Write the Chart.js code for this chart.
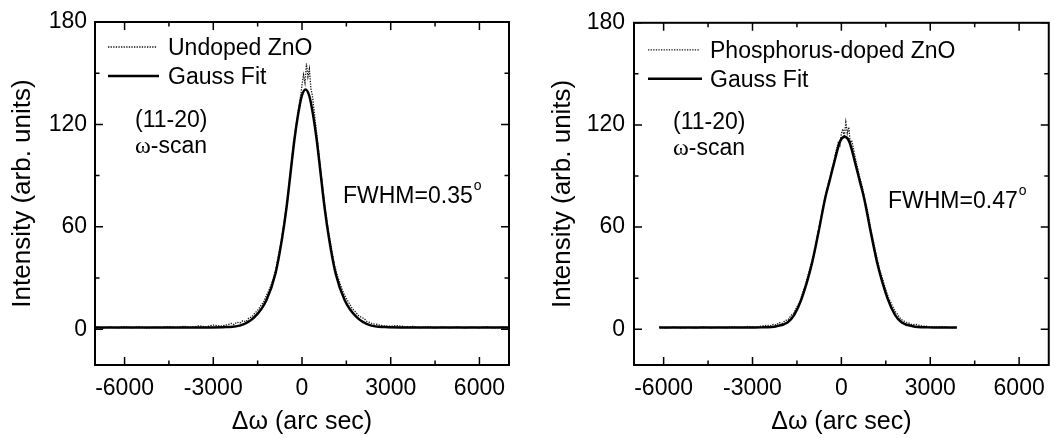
<!DOCTYPE html>
<html>
<head>
<meta charset="utf-8">
<script src="https://cdn.jsdelivr.net/npm/chart.js@4.4.0/dist/chart.umd.min.js"></script>
<style>
  body { margin: 0; background: #fff; width: 1055px; height: 438px; overflow: hidden; position: relative; }
  canvas { position: absolute; top: 0; }
  #left { left: 0; }
  #right { left: 530px; }
</style>
</head>
<body>
<canvas id="left" width="530" height="438"></canvas>
<canvas id="right" width="525" height="438"></canvas>
<script>
// axis ticks
const xTicks = [-6000, -3000, 0, 3000, 6000];
const xMinor = [-4500, -1500, 1500, 4500];
const yTicks = [0, 60, 120, 180];
const yMinor = [30, 90, 150];

const undopedX = [-7000,-6750,-6500,-6250,-6000,-5750,-5500,-5250,-5000,-4750,-4500,-4250,-4000,-3750,-3500,-3250,-3000,-2750,
  -2500,-2400,-2300,-2200,-2100,-2000,-1900,-1800,-1700,-1600,-1500,-1400,-1300,-1200,-1100,-1000,-900,-800,-700,-600,-500,-400,-300,-200,-100,-50,
  0,50,100,150,200,250,300,350,400,500,600,700,800,900,1000,1100,1200,1300,1400,1500,1600,1700,1800,1900,2000,2100,2200,2300,2400,2500,2750,
  3000,3250,3500,3750,4000,4250,4500,4750,5000,5250,5500,5750,6000,6250,6500,6750,7000];
const undopedY = [1.6,0.6,1.3,0.7,1.5,0.8,1.4,0.6,1.2,0.9,1.6,0.8,1.7,1.1,1.9,1.4,2.4,1.8,
  2.6,3.4,2.7,4.1,3.6,5.0,4.4,6.5,7.2,9.3,11.0,13.6,15.8,19.9,23.5,27.9,34.1,43.0,51.9,63.4,75.2,90.6,106.1,119.5,131.0,136.2,
  143.0,149.0,144.5,155.6,148.0,152.5,141.0,137.0,129.4,114.0,97.8,82.9,68.5,56.8,46.9,37.5,31.2,26.0,21.4,17.9,15.1,12.0,10.3,8.1,7.0,6.2,4.4,3.9,3.1,2.9,2.0,
  1.7,2.1,1.3,1.6,0.9,1.4,0.7,1.3,0.8,1.4,0.7,1.2,0.8,1.5,0.7,1.3,1.0];

// undoped ZnO, Gauss fit
const undopedFitX = [-7000,-5000,-3080,-2580,-2080,-1600,-1205,-895,-682,-518,-387,-257,-130,-10,120,250,370,497,627,758,922,1135,1445,1840,2320,2820,3320,5000,7000];
const undopedFitY = [1.0,1.0,1.0,1.2,2.2,7.2,17,32.8,52.3,72,91.6,111,126,136.5,140.5,136.5,126,111,91.6,72,52.3,32.8,17,7.2,2.2,1.2,1.0,1.0,1.0];

// phosphorus-doped ZnO, measured omega-scan
const pDopedX = [-6150,-5900,-5650,-5400,-5150,-4900,-4650,-4400,-4150,-3900,-3650,-3400,-3150,-2900,-2650,
  -2500,-2400,-2300,-2200,-2100,-2000,-1900,-1800,-1700,-1600,-1500,-1400,-1300,-1200,-1100,-1000,-900,-800,-700,-600,-500,-400,-300,-200,-100,-50,
  0,50,100,150,200,250,300,350,400,500,600,700,800,900,1000,1100,1200,1300,1400,1500,1600,1700,1800,1900,2000,2100,2200,2300,2400,2500,2700,
  2950,3200,3450,3700,3900];
const pDopedY = [1.2,0.6,1.3,0.7,1.1,0.6,1.4,0.8,1.2,0.9,1.5,1.0,1.6,1.3,2.0,
  2.3,1.9,2.8,2.5,3.9,3.4,5.1,5.6,8.0,9.7,13.2,16.4,21.8,27.0,33.5,39.8,45.6,55.9,64.8,73.1,81.5,88.0,95.2,103.1,110.4,108.2,
  114.9,117.6,113.0,121.5,115.2,118.7,109.5,110.9,106.8,98.2,90.6,84.1,75.5,67.9,58.2,50.0,41.8,34.5,29.1,23.0,18.1,14.6,10.8,8.7,6.0,4.9,4.1,3.5,2.6,2.9,2.0,
  1.6,1.2,1.5,0.8,1.1];

// phosphorus-doped ZnO, Gauss fit
const pDopedFitX = [-6150,-4000,-3190,-2690,-2190,-1820,-1590,-1347,-1011,-771,-551,-410,-265,-40,110,260,485,630,771,991,1231,1567,1810,2040,2410,2910,3410,3900];
const pDopedFitY = [1.0,1.0,1.0,1.1,1.8,4.0,8.5,17.7,37.4,57.1,76.7,86.4,96.4,110.5,113,110.5,96.4,86.4,76.7,57.1,37.4,17.7,8.5,4.0,1.8,1.1,1.0,1.0];

Chart.defaults.font.family = "'Liberation Sans', Arial, sans-serif";
Chart.defaults.color = '#000';

function pts(xs, ys) {
  return xs.map((x, i) => ({ x: x, y: ys[i] }));
}

// box, inward ticks on all four sides, legend and notes
const frame = {
  id: 'frame',
  afterDraw(chart, args, opts) {
    const ctx = chart.ctx;
    const a = chart.chartArea;
    const sx = chart.scales.x, sy = chart.scales.y;
    ctx.save();
    ctx.strokeStyle = '#000';
    ctx.lineWidth = 2;
    ctx.strokeRect(a.left, a.top, a.right - a.left, a.bottom - a.top);

    ctx.lineWidth = 1.5;
    ctx.beginPath();
    const xt = xTicks.map(v => [v, 8]).concat(xMinor.map(v => [v, 4.5]));
    xt.forEach(([v, len]) => {
      const p = sx.getPixelForValue(v);
      ctx.moveTo(p, a.bottom); ctx.lineTo(p, a.bottom - len);
      ctx.moveTo(p, a.top); ctx.lineTo(p, a.top + len);
    });
    const yt = yTicks.map(v => [v, 8]).concat(yMinor.map(v => [v, 4.5]));
    yt.forEach(([v, len]) => {
      const p = sy.getPixelForValue(v);
      ctx.moveTo(a.left, p); ctx.lineTo(a.left + len, p);
      ctx.moveTo(a.right, p); ctx.lineTo(a.right - len, p);
    });
    ctx.stroke();

    // legend
    const ds = chart.data.datasets;
    ctx.font = "23px 'Liberation Sans', Arial, sans-serif";
    ctx.fillStyle = '#000';
    opts.legend.forEach((item, i) => {
      const d = ds[item.ds];
      ctx.save();
      ctx.strokeStyle = d.borderColor;
      ctx.lineWidth = d.borderWidth;
      ctx.setLineDash(d.borderDash || []);
      ctx.beginPath();
      ctx.moveTo(a.left + item.x0, a.top + item.ly);
      ctx.lineTo(a.left + item.x1, a.top + item.ly);
      ctx.stroke();
      ctx.restore();
      ctx.fillText(d.label, a.left + item.tx, a.top + item.ty);
    });

    // notes
    const nx = a.left + opts.noteX;
    ctx.fillText('(11-20)', nx, a.top + opts.noteY);
    ctx.font = "24px 'Liberation Serif', 'Times New Roman', serif";
    ctx.fillText('\u03c9', nx, a.top + opts.noteY + 26);
    const w = ctx.measureText('\u03c9').width;
    ctx.font = "23px 'Liberation Sans', Arial, sans-serif";
    ctx.fillText('-scan', nx + w, a.top + opts.noteY + 26);

    const fx = a.left + opts.fwhmX, fy = a.top + opts.fwhmY;
    ctx.fillText(opts.fwhm, fx, fy);
    const fw = ctx.measureText(opts.fwhm).width;
    ctx.font = "14px 'Liberation Sans', Arial, sans-serif";
    ctx.fillText('o', fx + fw + 1, fy - 13);
    ctx.restore();
  }
};

function makeChart(id, cfg) {
  return new Chart(document.getElementById(id), {
    type: 'line',
    data: {
      datasets: [
        {
          label: 'Gauss Fit',
          data: pts(cfg.fitX, cfg.fitY),
          borderColor: '#000',
          borderWidth: 2.5,
          pointRadius: 0,
          cubicInterpolationMode: 'monotone',
          order: 0
        },
        {
          label: cfg.name,
          data: pts(cfg.dataX, cfg.dataY),
          borderColor: '#111',
          borderWidth: 1.3,
          borderDash: [1.3, 1.3],
          pointRadius: 0,
          order: 1
        }
      ]
    },
    options: {
      responsive: false,
      animation: false,
      devicePixelRatio: 1,
      layout: { padding: { top: 22, right: cfg.padRight, left: 0, bottom: 0 } },
      plugins: {
        legend: { display: false },
        tooltip: { enabled: false },
        frame: {
          legend: [
            { ds: 1, x0: cfg.legX0, x1: cfg.legX1, ly: cfg.legY, tx: cfg.legTx, ty: cfg.legY + 8 },
            { ds: 0, x0: cfg.legX0, x1: cfg.legX1 + 2, ly: cfg.legY + 29, tx: cfg.legTx, ty: cfg.legY + 37 }
          ],
          noteX: cfg.noteX,
          noteY: cfg.noteY,
          fwhm: cfg.fwhm,
          fwhmX: cfg.fwhmX,
          fwhmY: cfg.fwhmY
        }
      },
      scales: {
        x: {
          type: 'linear',
          min: -7000,
          max: 7000,
          afterBuildTicks: s => { s.ticks = xTicks.map(v => ({ value: v })); },
          afterFit: s => { s.height = 73; },
          grid: { display: false, drawTicks: false },
          border: { display: false },
          ticks: { padding: 10, font: { size: 23 }, callback: v => String(v) },
          title: { display: true, text: '\u0394\u03c9 (arc sec)', font: { size: 25 }, padding: { top: 0, bottom: 1 } }
        },
        y: {
          type: 'linear',
          min: -21,
          max: 180,
          afterBuildTicks: s => { s.ticks = yTicks.map(v => ({ value: v })); },
          afterFit: s => { s.width = cfg.yWidth; },
          grid: { display: false, drawTicks: false },
          border: { display: false },
          ticks: { padding: cfg.yPad, font: { size: 23 }, callback: v => String(v) },
          title: { display: true, text: 'Intensity (arb. units)', font: { size: 26 }, padding: { top: cfg.yTitlePad, bottom: 0 } }
        }
      }
    },
    plugins: [frame]
  });
}

makeChart('left', {
  name: 'Undoped ZnO',
  dataX: undopedX, dataY: undopedY, fitX: undopedFitX, fitY: undopedFitY,
  padRight: 21, yWidth: 95, yPad: 8, yTitlePad: 7,
  legX0: 13, legX1: 62, legY: 25, legTx: 73,
  noteX: 40, noteY: 105,
  fwhm: 'FWHM=0.35', fwhmX: 248, fwhmY: 181
});

makeChart('right', {
  name: 'Phosphorus-doped ZnO',
  dataX: pDopedX, dataY: pDopedY, fitX: pDopedFitX, fitY: pDopedFitY,
  padRight: 4, yWidth: 104, yPad: 9, yTitlePad: 17,
  legX0: 14, legX1: 66, legY: 27, legTx: 76,
  noteX: 39, noteY: 106,
  fwhm: 'FWHM=0.47', fwhmX: 254, fwhmY: 185
});
</script>
</body>
</html>
